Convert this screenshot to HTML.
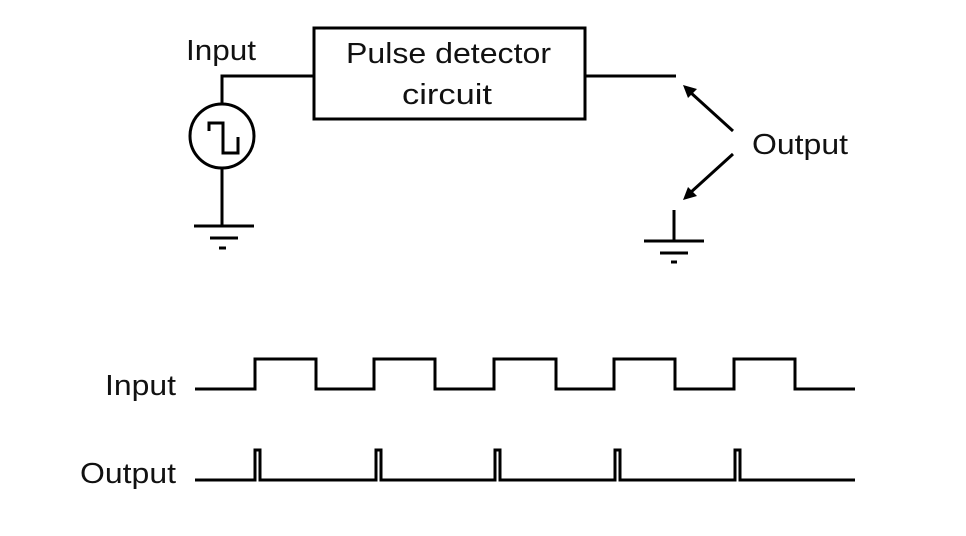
<!DOCTYPE html>
<html><head><style>body{margin:0;background:#fff}svg{display:block}</style></head>
<body>
<svg width="966" height="536" viewBox="0 0 966 536" xmlns="http://www.w3.org/2000/svg">
<rect width="966" height="536" fill="#fff"/>
<g fill="none" stroke="#000" stroke-width="3">
<rect x="314" y="28" width="271" height="91"/>
<polyline points="222,103 222,76 314,76"/>
<circle cx="222" cy="136" r="32"/>
<polyline points="209,131 209,123 223,123 223,153 238,153 238,137"/>
<line x1="222" y1="168" x2="222" y2="226"/>
<line x1="194" y1="226" x2="254" y2="226"/>
<line x1="210" y1="238" x2="238" y2="238"/>
<line x1="219" y1="248" x2="226" y2="248"/>
<line x1="585" y1="76" x2="676" y2="76"/>
<line x1="674" y1="210" x2="674" y2="241"/>
<line x1="644" y1="241" x2="704" y2="241"/>
<line x1="660" y1="253" x2="688" y2="253"/>
<line x1="671" y1="262" x2="677" y2="262"/>
<line x1="733" y1="131" x2="690" y2="92"/>
<line x1="733" y1="154" x2="690" y2="193"/>
<polyline points="195,389 255,389 255,359 316,359 316,389 374,389 374,359 435,359 435,389 494,389 494,359 556,359 556,389 614,389 614,359 675,359 675,389 734,389 734,359 795,359 795,389 855,389"/>
<polyline points="195,480 255,480 255,450 260,450 260,480 376,480 376,450 381,450 381,480 495,480 495,450 500,450 500,480 615,480 615,450 620,450 620,480 735,480 735,450 740,450 740,480 855,480"/>
</g>
<polygon points="683,85 697,89 688,98" fill="#000"/>
<polygon points="683,200 688,187 697,196" fill="#000"/>
<g font-family="Liberation Sans, sans-serif" fill="#111" font-size="29">
<text x="186" y="60" textLength="70" lengthAdjust="spacingAndGlyphs">Input</text>
<text x="346" y="63" textLength="205" lengthAdjust="spacingAndGlyphs">Pulse detector</text>
<text x="402" y="104" textLength="90" lengthAdjust="spacingAndGlyphs">circuit</text>
<text x="752" y="154" textLength="96" lengthAdjust="spacingAndGlyphs">Output</text>
<text x="105" y="395" textLength="71" lengthAdjust="spacingAndGlyphs">Input</text>
<text x="80" y="483" textLength="96" lengthAdjust="spacingAndGlyphs">Output</text>
</g>
</svg>
</body></html>
